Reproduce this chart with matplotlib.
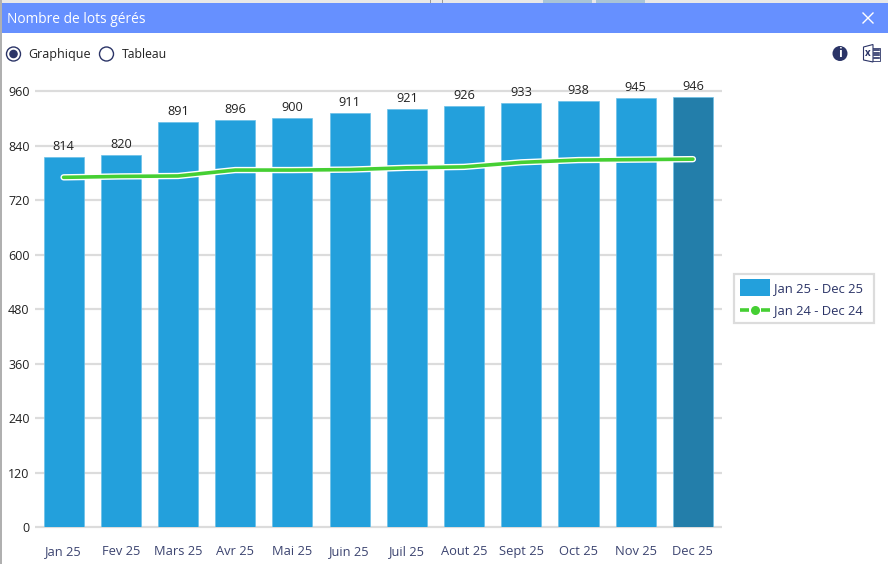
#!/usr/bin/env python3
import matplotlib
matplotlib.use('Agg')
import matplotlib.pyplot as plt
from matplotlib.patches import Rectangle, Circle, Polygon

W, H = 888, 564

months = ['Jan 25', 'Fev 25', 'Mars 25', 'Avr 25', 'Mai 25', 'Juin 25',
          'Juil 25', 'Aout 25', 'Sept 25', 'Oct 25', 'Nov 25', 'Dec 25']
lots_2025 = [814, 820, 891, 896, 900, 911, 921, 926, 933, 938, 945, 946]
lots_2024 = [770, 772, 773, 786, 786, 787, 791, 793, 803, 808, 809, 810]
y_ticks = [0, 120, 240, 360, 480, 600, 720, 840, 960]

BLUE = '#23A0DC'
DARK_BLUE = '#237EAA'
GREEN = '#45CF33'
GRID = '#DCDCDC'
NAVY = '#2B3467'
TICK_NAVY = '#3C4470'
FONT = ['Open Sans', 'DejaVu Sans']

plt.rcParams['font.family'] = FONT

fig = plt.figure(figsize=(W / 100, H / 100), dpi=100, facecolor='white')

# full-figure overlay in pixel coords (y going down) for the window chrome
bg = fig.add_axes([0, 0, 1, 1], zorder=0)
bg.set_xlim(0, W)
bg.set_ylim(H, 0)
bg.axis('off')
bg.add_patch(Rectangle((1, 3), W, 30, color='#6690FF', lw=0))
bg.add_patch(Rectangle((0, 0), W, 3, color='#E8E8E8', lw=0))
bg.add_patch(Rectangle((0, 0), 1.5, H, color='#B0B0B0', lw=0))
bg.add_patch(Rectangle((430, 0), 1, 3, color='#9A9A9A', lw=0))
bg.add_patch(Rectangle((442, 0), 1, 3, color='#9A9A9A', lw=0))
bg.add_patch(Rectangle((543, 0), 49, 3, color='#A9C4D6', lw=0))
bg.add_patch(Rectangle((596, 0), 49, 3, color='#A9C4D6', lw=0))
bg.text(7, 19.5, 'Nombre de lots gérés', color='white', fontsize=9.9, va='center', ha='left')
bg.plot([863, 873], [13, 23], color='white', lw=1)
bg.plot([863, 873], [23, 13], color='white', lw=1)

# radio buttons
bg.add_patch(Circle((13.5, 54), 7, fc='white', ec=NAVY, lw=1))
bg.add_patch(Circle((13.5, 54), 4.3, fc=NAVY, ec='none'))
bg.text(28.5, 54.5, 'Graphique', fontsize=9, color='#222222', va='center')
bg.add_patch(Circle((106.5, 54), 7, fc='white', ec=NAVY, lw=1))
bg.text(122, 54.5, 'Tableau', fontsize=8.8, color='#222222', va='center')

# info and excel icons
bg.add_patch(Circle((840, 53.5), 7.5, fc=NAVY, ec='none'))
bg.text(840, 53.8, 'i', color='white', fontsize=9, fontweight='bold', ha='center', va='center')
bg.add_patch(Rectangle((870, 47.5), 10, 13, fc='white', ec=NAVY, lw=0.6))
for gy in (50, 52.5, 55, 57.5):
    bg.plot([874, 879], [gy, gy], color=NAVY, lw=1.2)
bg.add_patch(Polygon([(863.5, 47), (873, 44.5), (873, 62), (863.5, 60)], closed=True,
                     fc='white', ec=NAVY, lw=0.8))
bg.text(868, 53.5, 'x', color=NAVY, fontsize=7, fontweight='bold', ha='center', va='center')

# chart area, placed so that 0 lands on y=527 and 960 on y=91
left, right, top, bottom = 35, 721.5, 91, 527.2
ax = fig.add_axes([left / W, 1 - bottom / H, (right - left) / W, (bottom - top) / H], zorder=1)
ax.patch.set_alpha(0)
x = list(range(len(months)))
colors = [BLUE] * 11 + [DARK_BLUE]
ax.bar(x, lots_2025, width=0.7, color=colors, edgecolor='#6CC0E8', linewidth=0.5, zorder=2)
ax.set_xlim(-0.5, 11.5)
ax.set_ylim(0, 960)
ax.set_yticks(y_ticks)
ax.set_xticks(x)
ax.set_xticklabels(months, fontsize=9.3, color=TICK_NAVY)
ax.tick_params(axis='both', length=0)
ax.tick_params(axis='x', pad=13)
ax.tick_params(axis='y', pad=4, labelsize=9, labelcolor='#222222')
ax.grid(True, axis='y', color=GRID, linewidth=1.6, zorder=1)
ax.grid(False, axis='x')
for side in ax.spines:
    ax.spines[side].set_visible(False)
for gridline in ax.yaxis.get_gridlines():
    gridline.set_clip_on(False)
    gridline.set_solid_capstyle('butt')

for i, v in enumerate(lots_2025):
    ax.text(i, v + 9, str(v), ha='center', va='bottom', fontsize=9.2, color='#222222', zorder=5)

# white halo under the green line
ax.plot(x, lots_2024, color='white', linewidth=4.6, solid_capstyle='round', zorder=3)
ax.plot(x, lots_2024, color=GREEN, linewidth=2.6, solid_capstyle='round', zorder=4)

# legend box, drawn by hand to hit the exact spot
bg_top = fig.add_axes([0, 0, 1, 1], zorder=2)
bg_top.set_xlim(0, W)
bg_top.set_ylim(H, 0)
bg_top.axis('off')
bg_top.add_patch(Rectangle((734, 274), 140, 49, fc='white', ec=GRID, lw=1.6))
bg_top.add_patch(Rectangle((740, 279), 30, 17, fc=BLUE, ec='none'))
bg_top.text(774, 288.5, 'Jan 25 - Dec 25', fontsize=9.4, color=NAVY, va='center')
bg_top.plot([740, 749], [310, 310], color=GREEN, lw=2.6, solid_capstyle='butt')
bg_top.plot([761, 770], [310, 310], color=GREEN, lw=2.6, solid_capstyle='butt')
bg_top.plot([755], [310], 'o', color=GREEN, ms=6.5, mew=0)
bg_top.text(774, 310.5, 'Jan 24 - Dec 24', fontsize=9.4, color=NAVY, va='center')

fig.savefig('out.png', dpi=100)
